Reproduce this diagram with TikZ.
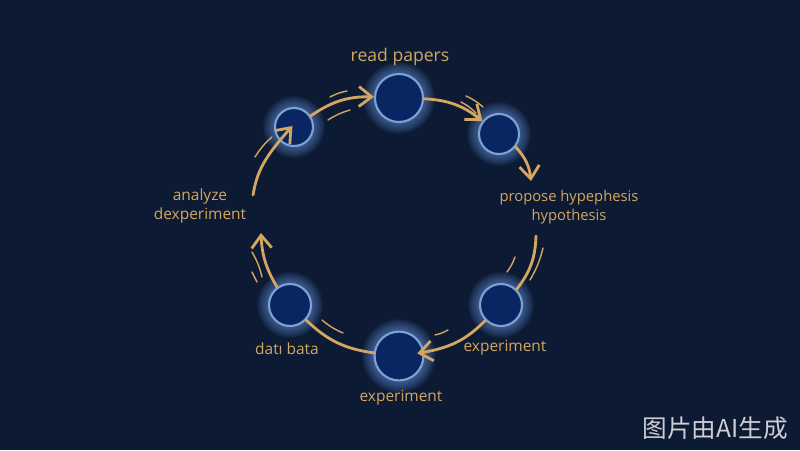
\documentclass[tikz,border=0pt]{standalone}
\usepackage{fontspec}
\setmainfont{Open Sans}
\newfontfamily\cjkfont{Noto Sans CJK SC}
\usetikzlibrary{arrows.meta}
\definecolor{night}{RGB}{13,26,52}
\definecolor{gold}{RGB}{212,166,96}
\definecolor{beadfill}{RGB}{9,38,98}
\definecolor{beadring}{RGB}{125,162,212}
\definecolor{halo}{RGB}{110,160,235}
\definecolor{markgray}{RGB}{205,205,210}
\pgfdeclarelayer{bg}
\pgfsetlayers{bg,main}

\begin{document}
\begin{tikzpicture}[
  x=0.025cm, y=0.025cm,
  font=\fontsize{11}{14}\selectfont,
  bead/.style={
    circle, draw=beadring, line width=1.5pt, fill=beadfill,
    minimum size=#1, inner sep=0pt
  },
  lbl/.style={text=gold, align=center, inner sep=1pt},
  arc/.style={draw=gold, line width=2pt, line cap=round},
  arr/.style={arc, -{Straight Barb[length=3.2mm,width=5mm]}},
  swish/.style={draw=gold, line width=1pt, line cap=round},
]
\useasboundingbox (0,0) rectangle (800,450);

% the six steps
\node[bead=1.2cm]  (T)  at (399,352) {};
\node[bead=1.0cm]  (UR) at (499,316) {};
\node[bead=1.05cm] (LR) at (501,145) {};
\node[bead=1.22cm] (B)  at (399,94)  {};
\node[bead=1.05cm] (LL) at (290,145) {};
\node[bead=0.95cm] (UL) at (294,323) {};

% labels
\node[lbl, font=\fontsize{12.5}{15}\selectfont] (lblT) at (400,393) {read papers};
\node[lbl, font=\fontsize{10.5}{13.5}\selectfont] (lblHyp) at (569,243) {propose hypephesis\\hypothesis};
\node[lbl] (lblAn) at (200,244) {analyze\\dexperiment};
\node[lbl] (lblData) at (287,101) {datı bata};
\node[lbl] (lblExpR) at (505,102) {experiment};
\node[lbl] (lblExpB) at (401,52) {experiment};
\node[text=markgray, font=\cjkfont\fontsize{17.5}{17.5}\selectfont] (mark) at (715,22) {图片由AI生成};

% free ends of the arcs beside the labels
\coordinate (p1) at (531,269);
\coordinate (p2) at (536,214);
\coordinate (p3) at (261,217);
\coordinate (p4) at (253,255);

% the cycle
\draw[arr] (UL) to[bend left=18] (T);
\draw[arr] (T) to[bend left=18] (UR);
\draw[arr] (UR) to[bend left=18] (p1);
\draw[arc] (p2) to[bend left=18] (LR);
\draw[arr, shorten >=-5pt] (LR) to[bend left=18] (B);
\draw[arc] (B) to[bend left=18] (LL);
\draw[arr] (LL) to[bend left=14] (p3);
\draw[arr, shorten >=-14pt] (p4) to[bend left=16] (UL);

% motion strokes
\draw[swish] (330,353) to[bend left=8] (347,359);
\draw[swish] (328,330) to[bend left=8] (350,340);
\draw[swish] (466,354) to[bend left=8] (483,343);
\draw[swish] (461,348) to[bend left=8] (476,337);
\draw[swish] (507,178) to[bend right=8] (515,193);
\draw[swish] (530,170) to[bend right=8] (543,202);
\draw[swish] (262,173) to[bend right=8] (252,198);
\draw[swish] (257,168) to (252,178);
\draw[swish] (322,130) to[bend right=8] (343,117);
\draw[swish] (435,115) to[bend right=8] (448,120);
\draw[swish] (255,293) to[bend left=8] (272,313);

\begin{pgfonlayer}{bg}
  \fill[night] (0,0) rectangle (800,450);
  \foreach \n/\r in {T/24,UR/20,LR/21,B/25,LL/21,UL/19}
    \foreach \k in {1,...,12}
      \fill[halo, opacity=.055] (\n) circle ({\r+\k});
\end{pgfonlayer}
\end{tikzpicture}
\end{document}
